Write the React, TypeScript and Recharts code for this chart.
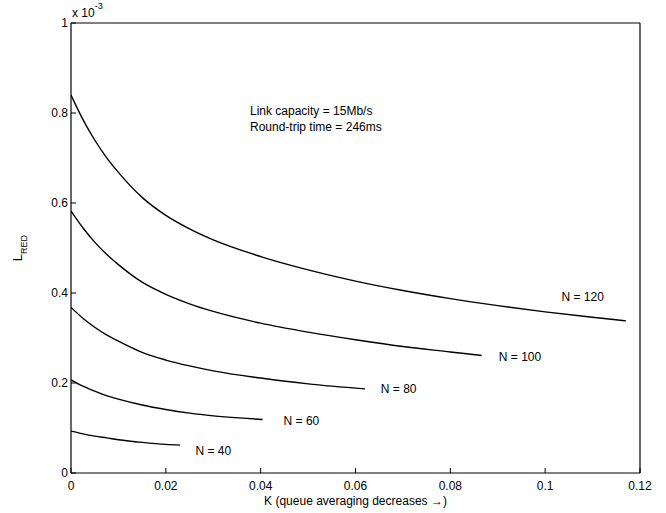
import { LineChart, Line, XAxis, YAxis, ReferenceDot } from 'recharts'

// K values and L_RED values (x 10^-3)
const kN40 = [0, 0.0025, 0.005, 0.0075, 0.01, 0.015, 0.02, 0.023]
const lN40 = [0.093, 0.087, 0.082, 0.078, 0.074, 0.068, 0.0635, 0.062]
const kN60 = [0, 0.0025, 0.005, 0.0075, 0.01, 0.015, 0.02, 0.025, 0.03, 0.0404]
const lN60 = [0.207, 0.193, 0.182, 0.172, 0.164, 0.151, 0.141, 0.133, 0.127, 0.119]
const kN80 = [0, 0.0025, 0.005, 0.0075, 0.01, 0.015, 0.02, 0.025, 0.03, 0.04, 0.05, 0.062]
const lN80 = [0.368, 0.344, 0.324, 0.307, 0.293, 0.268, 0.251, 0.238, 0.227, 0.211, 0.198, 0.187]
const kN100 = [0, 0.0025, 0.005, 0.0075, 0.01, 0.015, 0.02, 0.025, 0.03, 0.04, 0.05, 0.06, 0.07, 0.08, 0.0866]
const lN100 = [0.582, 0.545, 0.513, 0.486, 0.463, 0.424, 0.397, 0.376, 0.359, 0.333, 0.313, 0.296, 0.281, 0.269, 0.261]
const kN120 = [0, 0.0025, 0.005, 0.0075, 0.01, 0.015, 0.02, 0.025, 0.03, 0.04, 0.05, 0.06, 0.07, 0.08, 0.09, 0.1, 0.11, 0.117]
const lN120 = [0.84, 0.786, 0.74, 0.701, 0.668, 0.6125, 0.5725, 0.5425, 0.518, 0.481, 0.4515, 0.4265, 0.4055, 0.3875, 0.372, 0.358, 0.346, 0.338]

// curve labels, anchored in data coordinates
const curveNames = ['N = 40', 'N = 60', 'N = 80', 'N = 100', 'N = 120']
const labelK = [0.03, 0.0486, 0.0691, 0.0947, 0.1079]
const labelL = [0.049, 0.1156, 0.187, 0.258, 0.391]

const xTicks = [0, 0.02, 0.04, 0.06, 0.08, 0.1, 0.12]
const yTicks = [0, 0.2, 0.4, 0.6, 0.8, 1]

const toRows = (k: number[], l: number[]) => k.map((x, i) => ({ k: x, l: l[i] }))

const series = [
  toRows(kN40, lN40),
  toRows(kN60, lN60),
  toRows(kN80, lN80),
  toRows(kN100, lN100),
  toRows(kN120, lN120),
]

const FONT = '"Liberation Sans", Arial, sans-serif'
const tickStyle = { fill: '#000', fontSize: 12, fontFamily: FONT }
const axisLine = { stroke: '#000', strokeWidth: 1.2 }

function YLabel(props: any) {
  const vb = props.viewBox || {}
  const cy = (vb.y ?? 0) + (vb.height ?? 0) / 2
  const cx = 22
  return (
    <text
      transform={`translate(${cx},${cy}) rotate(-90)`}
      textAnchor="middle"
      fontFamily={FONT}
      fontSize={13}
      fill="#000"
    >
      L<tspan fontSize={9} dy={5}>RED</tspan>
    </text>
  )
}

function CurveLabel(props: any) {
  const { cx, cy, name } = props
  return (
    <text x={cx} y={cy} dy={4} textAnchor="middle" fontFamily={FONT} fontSize={12} fill="#000">
      {name}
    </text>
  )
}

export default function App() {
  return (
    <div style={{ position: 'absolute', left: 0, top: 0, width: 666, height: 513, background: '#fff' }}>
      <LineChart width={666} height={513} margin={{ top: 22, right: 0, bottom: 0, left: 0 }}>
        <XAxis
          xAxisId="b"
          dataKey="k"
          type="number"
          domain={[0, 0.12]}
          ticks={xTicks}
          allowDataOverflow
          height={40}
          tick={tickStyle}
          tickSize={-5}
          tickMargin={13}
          axisLine={axisLine}
          tickLine={{ stroke: '#000' }}
          label={{
            value: 'K (queue averaging decreases →)',
            position: 'insideBottom',
            offset: 8,
            style: { fill: '#000', fontSize: 12, fontFamily: FONT },
          }}
        />
        <XAxis
          xAxisId="t"
          orientation="top"
          dataKey="k"
          type="number"
          domain={[0, 0.12]}
          ticks={xTicks}
          height={1}
          tick={false}
          tickSize={-5}
          axisLine={axisLine}
          tickLine={{ stroke: '#000' }}
        />
        <YAxis
          yAxisId="l"
          type="number"
          domain={[0, 1]}
          ticks={yTicks}
          width={71}
          tick={tickStyle}
          tickSize={-5}
          tickMargin={8}
          axisLine={axisLine}
          tickLine={{ stroke: '#000' }}
          label={<YLabel />}
        />
        <YAxis
          yAxisId="r"
          orientation="right"
          type="number"
          domain={[0, 1]}
          ticks={yTicks}
          width={26}
          tick={false}
          tickSize={-5}
          axisLine={axisLine}
          tickLine={{ stroke: '#000' }}
        />
        {series.map((rows, i) => (
          <Line
            key={curveNames[i]}
            xAxisId="b"
            yAxisId="l"
            data={rows}
            dataKey="l"
            type="monotone"
            stroke="#000"
            strokeWidth={1.4}
            dot={false}
            activeDot={false}
            isAnimationActive={false}
          />
        ))}
        {curveNames.map((name, i) => (
          <ReferenceDot
            key={name}
            xAxisId="b"
            yAxisId="l"
            x={labelK[i]}
            y={labelL[i]}
            r={0}
            shape={(p: any) => <CurveLabel {...p} name={name} />}
          />
        ))}
      </LineChart>
      <div style={{ position: 'absolute', left: 72, top: 4, fontFamily: FONT, fontSize: 12, color: '#000' }}>
        x 10<sup style={{ fontSize: 9, position: 'relative', top: -3 }}>-3</sup>
      </div>
      <div style={{ position: 'absolute', left: 250, top: 103, fontFamily: FONT, fontSize: 12, lineHeight: '16px', color: '#000' }}>
        Link capacity = 15Mb/s
        <br />
        Round-trip time = 246ms
      </div>
    </div>
  )
}
